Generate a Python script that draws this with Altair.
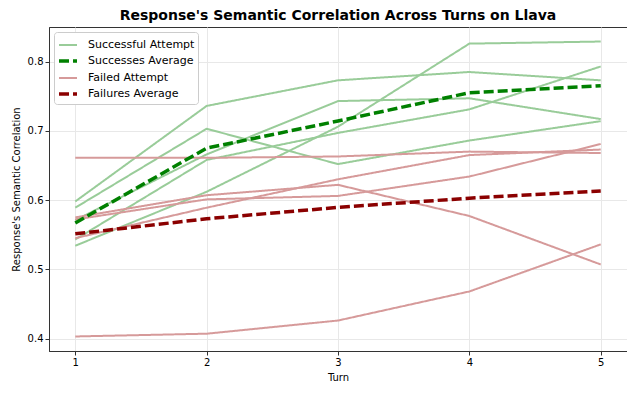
import altair as alt
import pandas as pd

turns = [1, 2, 3, 4, 5]

success_runs = [
    [0.598, 0.736, 0.773, 0.785, 0.773],
    [0.589, 0.703, 0.652, 0.686, 0.714],
    [0.571, 0.666, 0.743, 0.747, 0.717],
    [0.543, 0.658, 0.697, 0.731, 0.793],
    [0.534, 0.612, 0.706, 0.826, 0.829],
]

failure_runs = [
    [0.661, 0.661, 0.663, 0.670, 0.668],
    [0.403, 0.407, 0.426, 0.468, 0.536],
    [0.545, 0.589, 0.630, 0.665, 0.673],
    [0.575, 0.607, 0.622, 0.577, 0.507],
    [0.572, 0.601, 0.606, 0.634, 0.681],
]

labels = ["Successful Attempt", "Successes Average", "Failed Attempt", "Failures Average"]
colors = ["#99cc99", "#008000", "#d69a9a", "#8b0000"]
dashes = [[1, 0], [10, 4], [1, 0], [10, 4]]
widths = [2, 3.5, 2, 3.5]

y_ticks = [0.4, 0.5, 0.6, 0.7, 0.8]

rows = []
for i, run in enumerate(success_runs):
    for t, v in zip(turns, run):
        rows.append({"turn": t, "value": v, "run": f"s{i}", "kind": labels[0]})
for i, run in enumerate(failure_runs):
    for t, v in zip(turns, run):
        rows.append({"turn": t, "value": v, "run": f"f{i}", "kind": labels[2]})
runs_df = pd.DataFrame(rows)

avg_rows = []
for j, t in enumerate(turns):
    avg_rows.append({"turn": t, "value": sum(r[j] for r in success_runs) / len(success_runs),
                     "run": "savg", "kind": labels[1]})
for j, t in enumerate(turns):
    avg_rows.append({"turn": t, "value": sum(r[j] for r in failure_runs) / len(failure_runs),
                     "run": "favg", "kind": labels[3]})
avg_df = pd.DataFrame(avg_rows)

x_enc = alt.X("turn:Q", scale=alt.Scale(domain=[0.8, 5.2], nice=False, zero=False),
              axis=alt.Axis(values=turns, format="d", title="Turn"))
y_enc = alt.Y("value:Q", scale=alt.Scale(domain=[0.382, 0.850], nice=False, zero=False),
              axis=alt.Axis(values=y_ticks, format=".1f", title="Response's Semantic Correlation"))

legend = alt.Legend(
    title=None, orient="none", legendX=5, legendY=5,
    strokeColor="#cccccc", fillColor="white", padding=3, cornerRadius=3,
    labelFontSize=11, labelFont="DejaVu Sans", symbolType="stroke", symbolSize=324,
    rowPadding=-2, labelOffset=9,
)

color_enc = alt.Color("kind:N", scale=alt.Scale(domain=labels, range=colors), legend=legend)
dash_enc = alt.StrokeDash("kind:N", scale=alt.Scale(domain=labels, range=dashes), legend=legend)
width_enc = alt.StrokeWidth("kind:N", scale=alt.Scale(type="ordinal", domain=labels, range=widths), legend=legend)

runs_layer = alt.Chart(runs_df).mark_line().encode(
    x=x_enc, y=y_enc, color=color_enc, strokeDash=dash_enc, strokeWidth=width_enc, detail="run:N"
)
avg_layer = alt.Chart(avg_df).mark_line().encode(
    x=x_enc, y=y_enc, color=color_enc, strokeDash=dash_enc, strokeWidth=width_enc, detail="run:N"
)

chart = alt.layer(runs_layer, avg_layer).properties(
    width=578, height=324,
    padding={"left": 3, "top": 1, "right": 0, "bottom": 0},
    title=alt.TitleParams("Response's Semantic Correlation Across Turns on Llava",
                          fontSize=14, fontWeight="bold", font="DejaVu Sans",
                          anchor="middle", offset=4, color="black"),
).configure_view(
    stroke="#333333", strokeWidth=1
).configure_axis(
    labelFont="DejaVu Sans", titleFont="DejaVu Sans", labelFontSize=10, titleFontSize=10,
    titleFontWeight="normal", labelColor="black", titleColor="black",
    domainColor="#333333", tickColor="#333333", tickSize=4, labelPadding=2,
    gridColor="#e8e8e8", gridWidth=1,
).configure_axisY(titlePadding=6).configure_axisX(titlePadding=5)

chart.save("out.html", embed_options={"renderer": "svg", "actions": False})
